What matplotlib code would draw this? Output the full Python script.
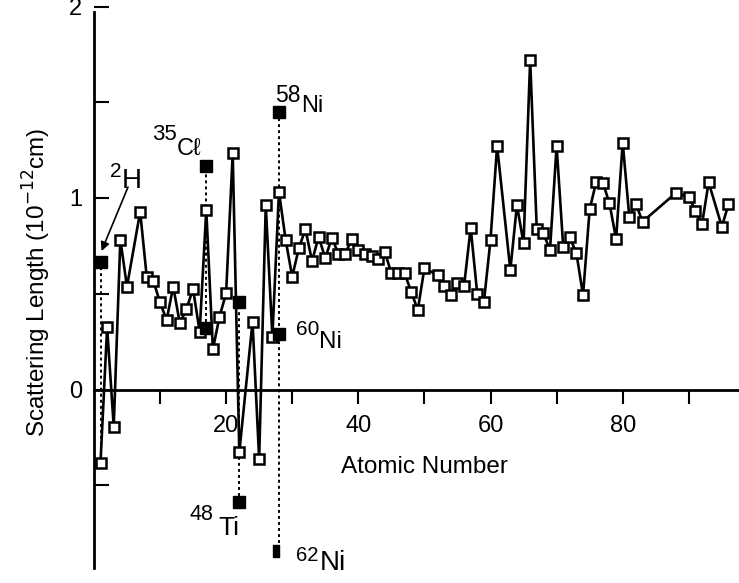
import matplotlib
matplotlib.use('Agg')
import matplotlib.pyplot as plt
from matplotlib.ticker import FixedLocator
from matplotlib.transforms import offset_copy

plt.rcParams['font.family'] = ['Liberation Sans', 'DejaVu Sans']

# element scattering lengths (1e-12 cm)
z = [1, 2, 3, 4, 5, 7, 8, 9, 10, 11, 12, 13, 14, 15, 16, 17, 18, 19, 20,
     21, 22, 24, 25, 26, 27, 28, 29, 30, 31, 32, 33, 34, 35, 36, 37, 38,
     39, 40, 41, 42, 43, 44, 45, 46, 47, 48, 49, 50, 52, 53, 54, 55, 56,
     57, 58, 59, 60, 61, 63, 64, 65, 66, 67, 68, 69, 70, 71, 72, 73, 74,
     75, 76, 77, 78, 79, 80, 81, 82, 83, 88, 90, 91, 92, 93, 95, 96]
b = [-0.382, 0.325, -0.194, 0.783, 0.537, 0.928, 0.585, 0.567, 0.455,
     0.363, 0.537, 0.346, 0.420, 0.525, 0.302, 0.937, 0.210, 0.380, 0.502,
     1.233, -0.328, 0.354, -0.363, 0.963, 0.276, 1.033, 0.783, 0.589,
     0.737, 0.837, 0.671, 0.798, 0.685, 0.793, 0.708, 0.708, 0.784, 0.728,
     0.708, 0.697, 0.681, 0.720, 0.607, 0.607, 0.607, 0.511, 0.415, 0.633,
     0.598, 0.540, 0.493, 0.555, 0.540, 0.845, 0.497, 0.457, 0.781, 1.272,
     0.624, 0.963, 0.763, 1.721, 0.837, 0.816, 0.728, 1.272, 0.746, 0.795,
     0.711, 0.493, 0.941, 1.085, 1.080, 0.972, 0.786, 1.289, 0.902, 0.969,
     0.876, 1.025, 1.007, 0.934, 0.863, 1.082, 0.850, 0.967]

# single isotopes (filled squares)
iso_z = [1, 17, 17, 22, 22, 28, 28]
iso_b = [0.667, 1.169, 0.320, 0.458, -0.585, 1.449, 0.288]
ni62_z = 28
ni62_b = -0.843

fig = plt.figure(figsize=(7.39, 5.83), dpi=100)
ax = fig.add_axes([93.9 / 739, 0, 1 - 93.9 / 739, 1])

# dotted lines joining isotopes of the same element
for zz in sorted(set(iso_z)):
    vals = [v for zi, v in zip(iso_z, iso_b) if zi == zz]
    vals.append(b[z.index(zz)])
    if zz == ni62_z:
        vals.append(ni62_b + 0.04)
    ax.vlines(zz, min(vals), max(vals), colors='black', lw=1.4,
              linestyles=(0, (1.5, 1.6)), zorder=2)

ax.plot(z, b, color='black', lw=1.9, marker='s', ms=7.6, mfc='white',
        mec='black', mew=1.8, zorder=3)
ax.plot(iso_z, iso_b, ls='none', marker='s', ms=8, color='black', zorder=4)
narrow = [(-0.21, -0.5), (0.21, -0.5), (0.21, 0.5), (-0.21, 0.5), (-0.21, -0.5)]
ax.plot([ni62_z - 0.4], [ni62_b], ls='none', marker=narrow, ms=8.6,
        color='black', zorder=4)


def iso_label(x, y, mass, sym, fs_m, fs_s, rise, gap=0):
    tm = offset_copy(ax.transData, fig=fig, x=-gap / 2, y=rise, units='points')
    ts = offset_copy(ax.transData, fig=fig, x=gap / 2, y=0, units='points')
    ax.text(x, y, mass, transform=tm, ha='right', va='baseline', fontsize=fs_m)
    ax.text(x, y, sym, transform=ts, ha='left', va='baseline', fontsize=fs_s)


iso_label(4.18, 1.052, '2', 'H', 15, 20, 8)
iso_label(12.57, 1.225, '35', 'C\u2113', 16, 17, 11)
iso_label(31.3, 1.449, '58', 'Ni', 16.5, 17, 7)
iso_label(34.06, 0.216, '60', 'Ni', 15, 17.5, 9.4)
iso_label(18.4, -0.760, '48', 'Ti', 15.5, 19, 11, gap=3.5)
iso_label(34.05, -0.945, '62', 'Ni', 14.5, 20, 7, gap=1)

ax.annotate('', xy=(1.15, 0.723), xytext=(5.16, 1.057),
            arrowprops=dict(arrowstyle='-|>', color='black', lw=1.2,
                            mutation_scale=13, shrinkA=0, shrinkB=0))

ax.set_xlim(0, (739 - 93.9) / 6.61)
ax.set_ylim(-(583 - 389.5) / 191.5, 389.5 / 191.5)

ax.spines['top'].set_visible(False)
ax.spines['right'].set_visible(False)
ax.spines['bottom'].set_position(('data', 0))
ax.spines['left'].set_bounds(-0.93, 1.97)
for s in ['left', 'bottom']:
    ax.spines[s].set_linewidth(2.0)

ax.set_xticks([20, 40, 60, 80])
ax.xaxis.set_minor_locator(FixedLocator([10, 30, 50, 70, 90]))
ax.set_yticks([0, 1, 2])
ax.yaxis.set_minor_locator(FixedLocator([-0.5, 0.5, 1.5]))
ax.tick_params(axis='x', which='both', direction='out', length=10, width=1.5,
               pad=8.5, labelsize=17)
ax.tick_params(axis='y', which='both', direction='in', length=11, width=1.5,
               pad=8.5, labelsize=17)

ax.set_xlabel('Atomic Number', fontsize=17.5)
ax.xaxis.set_label_coords(0.513, 0.218)
ax.set_ylabel('Scattering Length (10$^{-12}$cm)', fontsize=17.5)
ax.yaxis.set_label_coords(-0.063, 0.515)

fig.savefig('out.png', dpi=100)
